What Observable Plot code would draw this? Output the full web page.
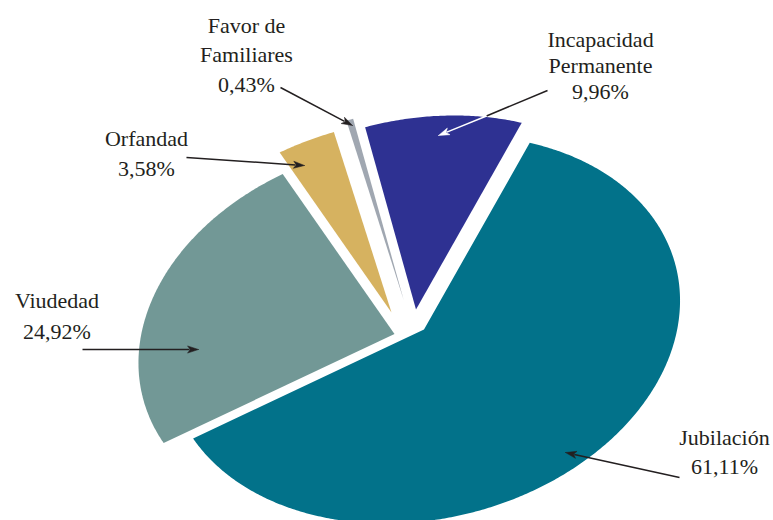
<!DOCTYPE html>
<html>
<head>
<meta charset="utf-8">
<script src="https://cdn.jsdelivr.net/npm/d3@7"></script>
<script src="https://cdn.jsdelivr.net/npm/@observablehq/plot@0.6"></script>
<style>
  html, body { margin: 0; padding: 0; background: #ffffff; }
  svg { display: block; }
</style>
</head>
<body>
<div id="chart"></div>
<script>
// ---- data ----
const categories = ["Jubilación", "Viudedad", "Orfandad", "Favor de Familiares", "Incapacidad Permanente"];
const shares = [61.11, 24.92, 3.58, 0.43, 9.96];
const labelNames = ["Jubilación", "Viudedad", "Orfandad", "Favor de\nFamiliares", "Incapacidad\nPermanente"];
const colors = ["#02728A", "#729896", "#D6B260", "#A0A7B1", "#2E3192"];

// ---- layout / style ----
const W = 773, H = 520;
const CX = 407, CY = 320;            // pie centre (px)
const START = 20.7;                  // start angle of first slice (deg, clockwise from top)
const AX = [255.5, 16.5];            // tilted-ellipse matrix (x from sin, cos)
const AY = [16.5, 193.3];            // (y-up from sin, cos)
const explode = [[16.5, 9], [-13, 13.5], [-16, -8], [-3.5, -19.5], [8.5, -11]]; // px nudges
const labelPos = [[724, 473], [56.5, 338], [146, 175], [246, 91], [600, 98]];   // baseline of last line
const lineHeights = [1.3, 1.4, 1.36, 1.34, 1.18];
const textColor = "#231F20";
const HEAD_L = 11, HEAD_W = 3.6;

const toX = px => px - CX;
const toY = py => CY - py;
const rad = d => d * Math.PI / 180;
const pct = v => d3.format(".2f")(v).replace(".", ",") + "%";

// slice outlines
let cum = START;
const slices = shares.map((s, i) => {
  const a0 = cum, a1 = cum + s * 3.6;
  cum = a1;
  const n = Math.max(4, Math.ceil((a1 - a0) / 0.5));
  const pts = [{x: 0, y: 0}];
  for (let k = 0; k <= n; k++) {
    const t = rad(a0 + (a1 - a0) * k / n);
    const sn = Math.sin(t), cs = Math.cos(t);
    pts.push({x: AX[0] * sn + AX[1] * cs, y: AY[0] * sn + AY[1] * cs});
  }
  pts.push({x: 0, y: 0});
  return pts;
});

// annotation arrows (px): [x1, y1, x2, y2, colour]
const arrowSpecs = [
  [679, 477, 565, 452, textColor],
  [82, 349, 198, 349, textColor],
  [186, 157, 304, 165, textColor],
  [280, 87, 352, 125, textColor],
  [486, 115.5, 438, 135, "#ffffff"]
];
const incapSegDark = [{x1: toX(547), y1: toY(90), x2: toX(486), y2: toY(115.5)}];

// shaft (stop at the head base) and filled head polygon for each arrow
const shafts = [], heads = [];
arrowSpecs.forEach(([x1, y1, x2, y2, c], i) => {
  const len = Math.hypot(x2 - x1, y2 - y1);
  const ux = (x2 - x1) / len, uy = (y2 - y1) / len;
  const bx = x2 - ux * (HEAD_L - 2), by = y2 - uy * (HEAD_L - 2);
  shafts.push({x1: toX(x1), y1: toY(y1), x2: toX(bx), y2: toY(by), c});
  const hx = x2 - ux * HEAD_L, hy = y2 - uy * HEAD_L;
  const nx = -uy, ny = ux;
  const nb = x2 - ux * (HEAD_L * 0.75), nby = y2 - uy * (HEAD_L * 0.75);
  [[x2, y2], [hx + nx * HEAD_W, hy + ny * HEAD_W], [nb, nby], [hx - nx * HEAD_W, hy - ny * HEAD_W], [x2, y2]]
    .forEach(([px, py]) => heads.push({x: toX(px), y: toY(py), id: i, c}));
});

const marks = [];
slices.forEach((pts, i) => {
  marks.push(Plot.line(pts, {
    x: "x", y: "y", fill: colors[i], stroke: "none",
    dx: explode[i][0], dy: explode[i][1]
  }));
});
marks.push(Plot.link(incapSegDark, {
  x1: "x1", y1: "y1", x2: "x2", y2: "y2", stroke: textColor, strokeWidth: 1.5
}));
marks.push(Plot.link(shafts, {
  x1: "x1", y1: "y1", x2: "x2", y2: "y2", stroke: d => d.c, strokeWidth: 1.5
}));
marks.push(Plot.line(heads, {
  x: "x", y: "y", z: "id", fill: d => d.c, stroke: d => d.c, strokeWidth: 0.5
}));
categories.forEach((c, i) => {
  marks.push(Plot.text([{x: toX(labelPos[i][0]), y: toY(labelPos[i][1]), t: labelNames[i] + "\n" + pct(shares[i])}], {
    x: "x", y: "y", text: "t",
    textAnchor: "middle", lineAnchor: "bottom", lineHeight: lineHeights[i],
    fontFamily: "Liberation Serif", fontSize: 22, fill: textColor
  }));
});

const chart = Plot.plot({
  width: W, height: H,
  margin: 0,
  x: {domain: [-CX, W - CX], axis: null},
  y: {domain: [-(H - CY), CY], axis: null},
  color: {type: "identity"},
  style: {background: "#ffffff", overflow: "hidden"},
  marks
});
document.getElementById("chart").appendChild(chart);
</script>
</body>
</html>
